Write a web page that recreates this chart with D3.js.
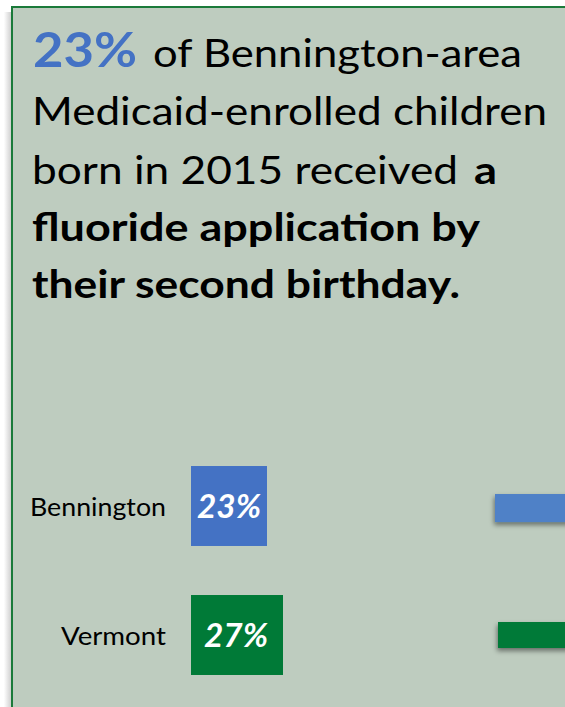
<!DOCTYPE html>
<html>
<head>
<meta charset="utf-8">
<script src="https://cdn.jsdelivr.net/npm/d3@7"></script>
<style>
  html, body { margin: 0; padding: 0; background: #ffffff; }
  svg { display: block; font-family: Lato, "Open Sans", sans-serif; }
</style>
</head>
<body>
<div id="chart"></div>
<script>
// data
const categories = ["Bennington", "Vermont"];
const values = [23, 27];
const valueLabels = ["23%", "27%"];
const barColors = ["#4472C4", "#007A37"];
// cut-off bars of the neighbouring chart on the right edge
const sideColors = ["#4F81C7", "#007A37"];

const W = 565, H = 707;

function main() {
    const svg = d3.select("#chart").append("svg")
        .attr("width", W)
        .attr("height", H);

    const defs = svg.append("defs");

    // left shadow of the panel
    const grad = defs.append("linearGradient").attr("id", "leftShade");
    grad.append("stop").attr("offset", "0%").attr("stop-color", "#ffffff");
    grad.append("stop").attr("offset", "35%").attr("stop-color", "#ffffff");
    grad.append("stop").attr("offset", "100%").attr("stop-color", "#d0d0d0");

    const shadow = defs.append("filter").attr("id", "drop")
        .attr("x", "-20%").attr("y", "-30%").attr("width", "140%").attr("height", "180%");
    shadow.append("feDropShadow")
        .attr("dx", -1).attr("dy", 3).attr("stdDeviation", 2.5)
        .attr("flood-color", "#000").attr("flood-opacity", 0.45);

    svg.append("rect")
        .attr("x", 0).attr("y", 12)
        .attr("width", 11).attr("height", H - 12)
        .attr("fill", "url(#leftShade)");

    // panel
    svg.append("rect")
        .attr("x", 12).attr("y", 7)
        .attr("width", W + 20).attr("height", H + 20)
        .attr("fill", "#BECCBF")
        .attr("stroke", "#1B7A3A")
        .attr("stroke-width", 2);

    // headline
    const head = svg.append("g");
    const seg = (txt, x, y, size, weight, color, len) => {
        head.append("text")
            .attr("x", x).attr("y", y)
            .attr("font-size", size)
            .attr("font-weight", weight)
            .attr("fill", color)
            .attr("textLength", len)
            .attr("lengthAdjust", "spacingAndGlyphs")
            .text(txt);
    };
    seg("23%", 33, 67, 47, 700, "#4472C4", 104);
    seg("of Bennington-area", 153, 67, 39, 400, "#000", 369);
    seg("Medicaid-enrolled children", 32, 125, 39, 400, "#000", 515);
    seg("born in 2015 received", 32, 184, 39, 400, "#000", 426);
    seg("a", 474, 184, 39, 700, "#000", 23);
    seg("fluoride application by", 32, 241, 39, 700, "#000", 448);
    seg("their second birthday.", 32, 298, 39, 700, "#000", 428);

    // scales
    const x = d3.scaleLinear().domain([4, 27]).range([191, 283]);
    const y = d3.scaleBand().domain(categories)
        .range([441.5, 699.5])
        .paddingInner(0.38)
        .paddingOuter(0.19);

    const rows = categories.map((c, i) => ({ cat: c, v: values[i], lab: valueLabels[i], col: barColors[i], side: sideColors[i] }));

    // bars
    svg.selectAll(".bar")
        .data(rows)
        .enter()
        .append("rect")
        .attr("class", "bar")
        .attr("x", x(4))
        .attr("y", d => y(d.cat))
        .attr("width", d => x(d.v) - x(4))
        .attr("height", y.bandwidth())
        .attr("fill", d => d.col);

    // value labels
    svg.selectAll(".val")
        .data(rows)
        .enter()
        .append("text")
        .attr("class", "val")
        .attr("x", d => (x(4) + x(d.v)) / 2 + (d.v === 27 ? -1 : 0))
        .attr("y", d => y(d.cat) + y.bandwidth() / 2 + 12)
        .attr("text-anchor", "middle")
        .attr("font-size", 32)
        .attr("font-weight", 700)
        .attr("font-style", "italic")
        .attr("fill", "#ffffff")
        .attr("textLength", 64)
        .attr("lengthAdjust", "spacingAndGlyphs")
        .text(d => d.lab);

    // category labels
    svg.selectAll(".cat")
        .data(rows)
        .enter()
        .append("text")
        .attr("class", "cat")
        .attr("x", 166)
        .attr("y", d => y(d.cat) + y.bandwidth() / 2 + 10)
        .attr("text-anchor", "end")
        .attr("font-size", 25)
        .attr("fill", "#000")
        .attr("textLength", d => d.cat === "Bennington" ? 136 : 105)
        .attr("lengthAdjust", "spacingAndGlyphs")
        .text(d => d.cat);

    // neighbouring bars, cut off by the right edge
    svg.selectAll(".side")
        .data(rows)
        .enter()
        .append("rect")
        .attr("class", "side")
        .attr("x", (d, i) => i === 0 ? 495 : 498)
        .attr("y", d => y(d.cat) + 28 - (d.cat === "Vermont" ? 1 : 0))
        .attr("width", 120)
        .attr("height", (d, i) => i === 0 ? 28 : 26)
        .attr("fill", d => d.side)
        .attr("filter", "url(#drop)");
}

main();
</script>
</body>
</html>
